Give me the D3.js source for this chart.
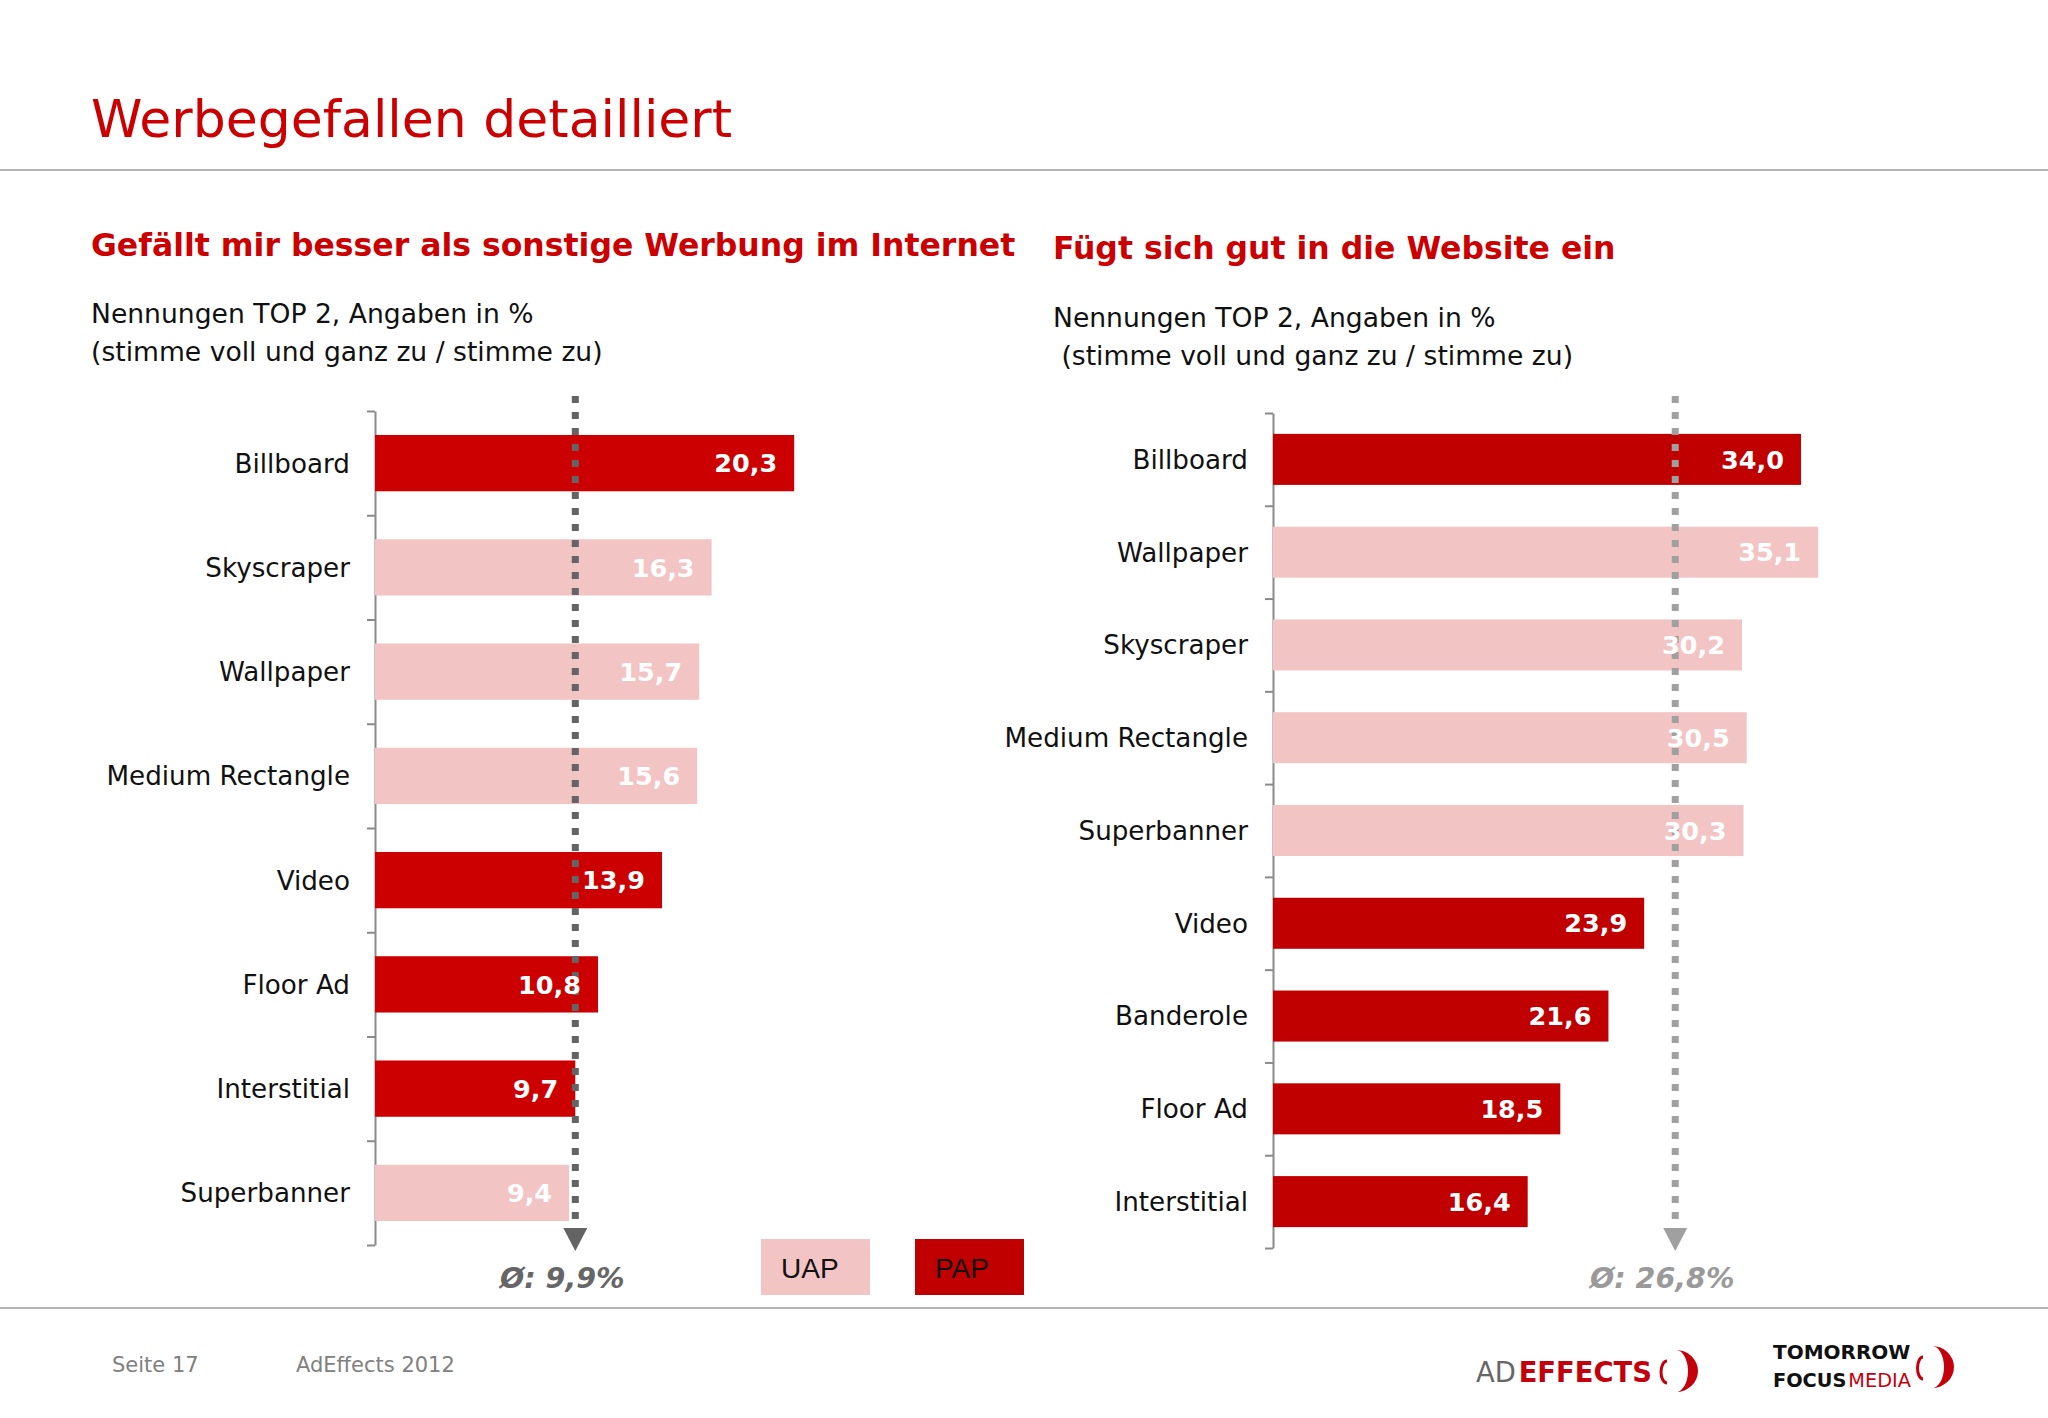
<!DOCTYPE html>
<html>
<head>
<meta charset="utf-8">
<script src="https://cdn.jsdelivr.net/npm/d3@7"></script>
<style>
  body { margin: 0; background: #fff; }
  svg { display: block; }
  text { font-family: "DejaVu Sans", Verdana, sans-serif; white-space: pre; }
</style>
</head>
<body>
<svg id="chart"></svg>
<script>
// data
const leftCategories = ['Billboard', 'Skyscraper', 'Wallpaper', 'Medium Rectangle', 'Video', 'Floor Ad', 'Interstitial', 'Superbanner']
const leftValues = [20.3, 16.3, 15.7, 15.6, 13.9, 10.8, 9.7, 9.4]
const leftTypes = ['PAP', 'UAP', 'UAP', 'UAP', 'PAP', 'PAP', 'PAP', 'UAP']

const rightCategories = ['Billboard', 'Wallpaper', 'Skyscraper', 'Medium Rectangle', 'Superbanner', 'Video', 'Banderole', 'Floor Ad', 'Interstitial']
const rightValues = [34.0, 35.1, 30.2, 30.5, 30.3, 23.9, 21.6, 18.5, 16.4]
const rightTypes = ['PAP', 'UAP', 'UAP', 'UAP', 'UAP', 'PAP', 'PAP', 'PAP', 'PAP']

const avgLabels = ['Ø: 9,9%', 'Ø: 26,8%']
const avgMarks = [9.7, 25.9]   // where the dashed arrow sits in the picture
const legendKeys = ['UAP', 'PAP']

const width = 2048
const height = 1418
const red = '#cc0000'
const fmt = v => d3.format('.1f')(v).replace('.', ',')

const svg = d3.select('#chart')
    .attr('width', width)
    .attr('height', height)

// header
svg.append('text')
    .attr('x', 91).attr('y', 137)
    .attr('fill', red)
    .style('font-size', '52px')
    .text('Werbegefallen detailliert')

svg.append('line')
    .attr('x1', 0).attr('x2', width)
    .attr('y1', 170).attr('y2', 170)
    .attr('stroke', '#b4b4b4').attr('stroke-width', 2)

function drawPanel(p) {
    const g = svg.append('g')

    g.append('text')
        .attr('x', p.titleX).attr('y', p.titleY)
        .attr('fill', red)
        .style('font-size', '31.5px').style('font-weight', 'bold')
        .text(p.title)

    p.sub.forEach((s, i) => {
        g.append('text')
            .attr('x', p.titleX).attr('y', p.subY + i * 38)
            .attr('fill', '#111')
            .style('font-size', '26.6px')
            .text(s)
    })

    const yScale = d3.scaleBand()
        .domain(p.cats)
        .range([p.top, p.bottom])
        .paddingInner(p.pad)
        .paddingOuter(p.pad / 2)

    const xScale = d3.scaleLinear()
        .domain([0, 40])
        .range([p.axisX, p.axisX + 40 * p.unit])

    // category axis: ticks between the bands
    const edge = d3.scaleLinear()
        .domain([0, p.cats.length])
        .range([p.top, p.bottom])
    const axis = g.append('g')
        .attr('transform', `translate(${p.axisX},0)`)
        .call(d3.axisLeft(edge).tickValues(d3.range(p.cats.length + 1)).tickFormat('').tickSize(8).tickSizeOuter(0))
    axis.selectAll('path, line').attr('stroke', '#8a8a8a').attr('stroke-width', 2)

    g.selectAll('.bar')
        .data(p.vals)
        .join('rect')
        .attr('x', xScale(0))
        .attr('y', (d, i) => yScale(p.cats[i]))
        .attr('width', d => xScale(d) - xScale(0))
        .attr('height', yScale.bandwidth())
        .attr('fill', (d, i) => p.types[i] === 'PAP' ? p.papColor : '#f2c4c4')

    g.selectAll('.cat')
        .data(p.cats)
        .join('text')
        .attr('x', p.axisX - 25)
        .attr('y', d => yScale(d) + yScale.bandwidth() / 2)
        .attr('dy', '0.36em')
        .attr('text-anchor', 'end')
        .attr('fill', '#111')
        .style('font-size', '26.2px')
        .text(d => d)

    // average marker
    const ax = xScale(p.avg)
    g.append('line')
        .attr('x1', ax).attr('x2', ax)
        .attr('y1', 396).attr('y2', 1228)
        .attr('stroke', p.avgColor)
        .attr('stroke-width', 7)
        .attr('stroke-dasharray', '7 9')
    g.append('path')
        .attr('d', `M${ax - 12},1228 L${ax + 12},1228 L${ax},1251 Z`)
        .attr('fill', p.avgColor)
    g.append('text')
        .attr('x', ax - 13).attr('y', 1288)
        .attr('text-anchor', 'middle')
        .attr('fill', p.avgTextColor)
        .style('font-size', '28.5px').style('font-weight', 'bold').style('font-style', 'italic')
        .text(p.avgLabel)

    g.selectAll('.val')
        .data(p.vals)
        .join('text')
        .attr('x', d => xScale(d) - 17)
        .attr('y', (d, i) => yScale(p.cats[i]) + yScale.bandwidth() / 2)
        .attr('dy', '0.36em')
        .attr('text-anchor', 'end')
        .attr('fill', '#fff')
        .style('font-size', '25.5px').style('font-weight', 'bold')
        .text(d => fmt(d))
}

drawPanel({
    title: 'Gefällt mir besser als sonstige Werbung im Internet',
    titleX: 91, titleY: 256,
    sub: ['Nennungen TOP 2, Angaben in %', '(stimme voll und ganz zu / stimme zu)'],
    subY: 323,
    cats: leftCategories, vals: leftValues, types: leftTypes,
    axisX: 375, top: 411, bottom: 1245, pad: 0.46, unit: 20.65,
    papColor: '#cc0000',
    avg: avgMarks[0], avgLabel: avgLabels[0], avgColor: '#646464', avgTextColor: '#666'
})

drawPanel({
    title: 'Fügt sich gut in die Website ein',
    titleX: 1053, titleY: 259,
    sub: ['Nennungen TOP 2, Angaben in %', ' (stimme voll und ganz zu / stimme zu)'],
    subY: 327,
    cats: rightCategories, vals: rightValues, types: rightTypes,
    axisX: 1273, top: 413, bottom: 1248, pad: 0.45, unit: 15.53,
    papColor: '#c00000',
    avg: avgMarks[1], avgLabel: avgLabels[1], avgColor: '#a0a0a0', avgTextColor: '#9a9a9a'
})

// legend
const legendX = d3.scaleOrdinal().domain(legendKeys).range([761, 915])
const legend = svg.selectAll('.legend')
    .data(legendKeys)
    .join('g')
    .attr('transform', d => `translate(${legendX(d)},1239)`)
legend.append('rect')
    .attr('width', 109).attr('height', 56)
    .attr('fill', d => d === 'PAP' ? '#c00000' : '#f2c4c4')
legend.append('text')
    .attr('x', 20).attr('y', 39)
    .attr('fill', '#111')
    .style('font-family', '"Liberation Sans", Arial, sans-serif')
    .style('font-size', '28px')
    .text(d => d)

// footer
svg.append('line')
    .attr('x1', 0).attr('x2', width)
    .attr('y1', 1308).attr('y2', 1308)
    .attr('stroke', '#b4b4b4').attr('stroke-width', 2)

svg.append('text').attr('x', 112).attr('y', 1372)
    .attr('fill', '#808080').style('font-size', '21px').text('Seite 17')
svg.append('text').attr('x', 296).attr('y', 1372)
    .attr('fill', '#808080').style('font-size', '21px').text('AdEffects 2012')

// logos
const logo = svg.append('g').style('font-family', '"Open Sans", sans-serif')
const ad = logo.append('text').attr('x', 1476).attr('y', 1382).style('font-size', '29px')
    .attr('textLength', 176).attr('lengthAdjust', 'spacingAndGlyphs')
ad.append('tspan').attr('fill', '#666').text('AD')
ad.append('tspan').attr('dx', 3).attr('fill', '#c4000d').style('font-weight', 600).text('EFFECTS')
logo.append('path')
    .attr('d', 'M1667,1361 A6 11 0 0 0 1667 1383')
    .attr('fill', 'none').attr('stroke', '#c4000d').attr('stroke-width', 3)
logo.append('path')
    .attr('d', 'M1676,1350 A22 21 0 0 1 1676 1392 A12 21 0 0 0 1676 1350 Z')
    .attr('fill', '#c4000d')

logo.append('text').attr('x', 1773).attr('y', 1359)
    .attr('fill', '#111').style('font-size', '20px').style('font-weight', 600).text('TOMORROW')
const tf = logo.append('text').attr('x', 1773).attr('y', 1387).style('font-size', '20px').style('font-weight', 600)
    .attr('textLength', 138).attr('lengthAdjust', 'spacingAndGlyphs')
tf.append('tspan').attr('fill', '#111').text('FOCUS')
tf.append('tspan').attr('dx', 2).attr('fill', '#c4000d').style('font-weight', 400).text('MEDIA')
logo.append('path')
    .attr('d', 'M1923,1357 A5 10 0 0 0 1923 1379')
    .attr('fill', 'none').attr('stroke', '#c4000d').attr('stroke-width', 3)
logo.append('path')
    .attr('d', 'M1932,1346 A22 21 0 0 1 1932 1388 A12 21 0 0 0 1932 1346 Z')
    .attr('fill', '#c4000d')
</script>
</body>
</html>
